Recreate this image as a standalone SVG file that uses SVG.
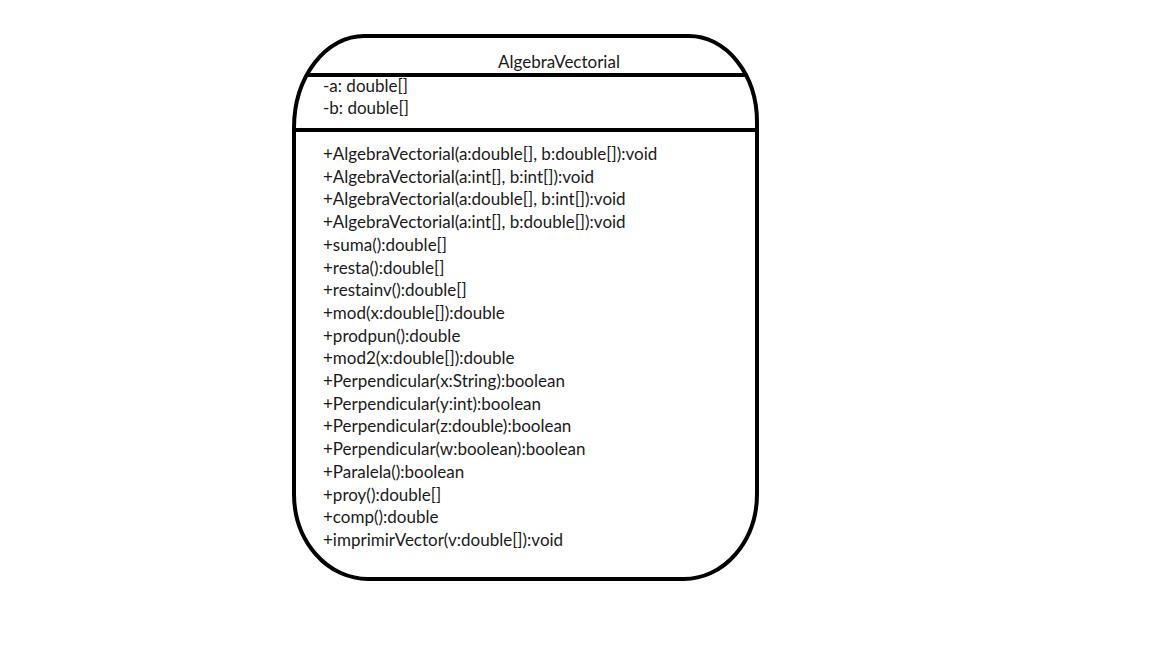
<svg xmlns="http://www.w3.org/2000/svg" width="1152" height="648" viewBox="0 0 1152 648">
<style>
.t{font-family:Lato,"Open Sans","Liberation Sans",sans-serif;font-size:17px;fill:#1a1a1a}
.s{fill:none;stroke:#000;stroke-width:4}
</style>
<rect width="1152" height="648" fill="#fff"/>
<g id="AlgebraVectorial">
<path class="s" d="M364,36 H689 A68,86 0 0 1 757,122 V494 A73,85 0 0 1 684,579 H368 A74,85 0 0 1 294,494 V128 A70,92 0 0 1 364,36 Z"/>
<line class="s" x1="306" y1="75" x2="746" y2="75"/>
<line class="s" x1="294" y1="130" x2="757" y2="130"/>
<text class="t" x="559" y="68" text-anchor="middle">AlgebraVectorial</text>
<text class="t" x="323" y="92">-a: double[]</text>
<text class="t" x="323" y="114">-b: double[]</text>
<text class="t" x="323" y="160">+AlgebraVectorial(a:double[], b:double[]):void</text>
<text class="t" x="323" y="182.7">+AlgebraVectorial(a:int[], b:int[]):void</text>
<text class="t" x="323" y="205.4">+AlgebraVectorial(a:double[], b:int[]):void</text>
<text class="t" x="323" y="228.1">+AlgebraVectorial(a:int[], b:double[]):void</text>
<text class="t" x="323" y="250.8">+suma():double[]</text>
<text class="t" x="323" y="273.5">+resta():double[]</text>
<text class="t" x="323" y="296.2">+restainv():double[]</text>
<text class="t" x="323" y="318.9">+mod(x:double[]):double</text>
<text class="t" x="323" y="341.6">+prodpun():double</text>
<text class="t" x="323" y="364.3">+mod2(x:double[]):double</text>
<text class="t" x="323" y="387">+Perpendicular(x:String):boolean</text>
<text class="t" x="323" y="409.7">+Perpendicular(y:int):boolean</text>
<text class="t" x="323" y="432.4">+Perpendicular(z:double):boolean</text>
<text class="t" x="323" y="455.1">+Perpendicular(w:boolean):boolean</text>
<text class="t" x="323" y="477.8">+Paralela():boolean</text>
<text class="t" x="323" y="500.5">+proy():double[]</text>
<text class="t" x="323" y="523.2">+comp():double</text>
<text class="t" x="323" y="545.9">+imprimirVector(v:double[]):void</text>
</g>
<g id="connectors"/>
</svg>
